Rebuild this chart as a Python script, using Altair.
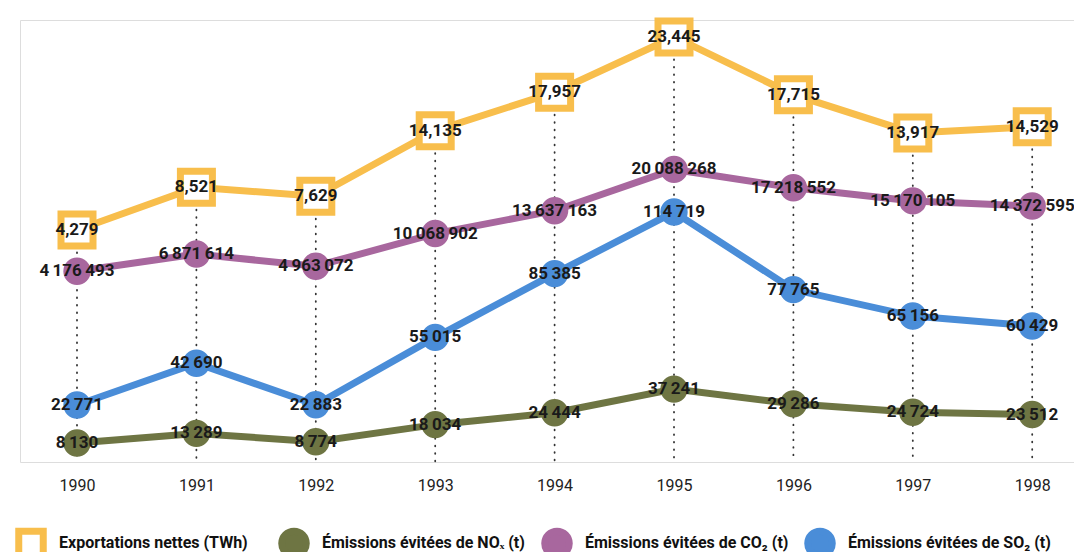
import altair as alt
import pandas as pd

# ---- data ----
years = [1990, 1991, 1992, 1993, 1994, 1995, 1996, 1997, 1998]
exports_twh = [4.279, 8.521, 7.629, 14.135, 17.957, 23.445, 17.715, 13.917, 14.529]
nox_t = [8130, 13289, 8774, 18034, 24444, 37241, 29286, 24724, 23512]
co2_t = [4176493, 6871614, 4963072, 10068902, 13637163, 20088268, 17218552, 15170105, 14372595]
so2_t = [22771, 42690, 22883, 55015, 85385, 114719, 77765, 65156, 60429]

series_names = [
    "Exportations nettes (TWh)",
    "Émissions évitées de NOₓ (t)",
    "Émissions évitées de CO₂ (t)",
    "Émissions évitées de SO₂ (t)",
]

# ---- styles ----
YELLOW = "#F8BE4C"
OLIVE = "#6E7543"
PURPLE = "#A8679E"
BLUE = "#4A8DD8"
TXT = "#1a1a1a"
FONT = "Roboto"

W, H = 1054, 442


def frame(values, name):
    return pd.DataFrame({"year": years, "value": values, "series": name})


df_exp = frame(exports_twh, series_names[0])
df_nox = frame(nox_t, series_names[1])
df_co2 = frame(co2_t, series_names[2])
df_so2 = frame(so2_t, series_names[3])

# independent vertical scales (one per series), x shared
dom_exp = [-18.76, 25.13]
dom_co2 = [-25.63e6, 43.44e6]
dom_so2 = [-4380, 206200]
dom_nox = [-2160, 236800]

X = alt.X(
    "year:Q",
    scale=alt.Scale(domain=[1989.5226, 1998.350], nice=False, zero=False),
    axis=alt.Axis(
        values=years, format="d", title=None, grid=False, domain=False,
        ticks=False, tickSize=0, labelPadding=15, labelFont=FONT,
        labelFontSize=16, labelColor="#222222", labelFontWeight="normal",
    ),
)


def Y(dom):
    return alt.Y("value:Q", scale=alt.Scale(domain=dom, nice=False, zero=False), axis=None)


legend = alt.Legend(
    title=None, orient="none", legendX=-5, legendY=507, direction="horizontal",
    columns=4, gridAlign="all", columnPadding=4, symbolSize=600,
    symbolStrokeWidth=7, symbolOpacity=1, labelFont=FONT, labelFontSize=16,
    labelFontWeight="bold", labelColor="#111111", labelLimit=400, labelOffset=12,
    padding=0,
)

fill = alt.Fill("series:N", scale=alt.Scale(domain=series_names, range=["white", OLIVE, PURPLE, BLUE]), legend=legend)
stroke = alt.Stroke("series:N", scale=alt.Scale(domain=series_names, range=[YELLOW, OLIVE, PURPLE, BLUE]), legend=legend)
shape = alt.Shape("series:N", scale=alt.Scale(domain=series_names, range=["square", "circle", "circle", "circle"]), legend=legend)


def series_layers(df, dom, color, size, fmt):
    line = alt.Chart(df).mark_line(color=color, strokeWidth=7).encode(x=X, y=Y(dom))
    pts = alt.Chart(df).mark_point(filled=True, size=size, strokeWidth=7, opacity=1).encode(
        x=X, y=Y(dom), fill=fill, stroke=stroke, shape=shape
    )
    txt = alt.Chart(df).mark_text(
        font=FONT, fontSize=17, fontWeight="bold", color=TXT, align="center", baseline="middle"
    ).encode(x=X, y=Y(dom), text=alt.Text("value:Q", format=fmt))
    return [line, pts, txt]


rules = alt.Chart(df_exp).mark_rule(
    color="#333333", strokeWidth=1.8, strokeDash=[0.5, 7], strokeCap="round"
).encode(x=X, y=Y(dom_exp), y2=alt.value(H))

layers = [rules]
layers += series_layers(df_nox, dom_nox, OLIVE, 415, ",d")
layers += series_layers(df_so2, dom_so2, BLUE, 415, ",d")
layers += series_layers(df_co2, dom_co2, PURPLE, 415, ",d")
layers += series_layers(df_exp, dom_exp, YELLOW, 1024, ",.3f")

chart = (
    alt.layer(*layers)
    .resolve_scale(y="independent")
    .properties(
        width=W, height=H,
        padding={"left": 12, "top": 12, "right": 0, "bottom": 90},
        autosize=alt.AutoSizeParams(type="none"),
        background="white",
    )
    .configure_view(stroke=None)
    .configure(locale={"number": {"decimal": ",", "thousands": "\u2009", "grouping": [3], "currency": ["", " €"]}})
)

chart.save("out.html", embed_options={"renderer": "svg", "actions": False})
